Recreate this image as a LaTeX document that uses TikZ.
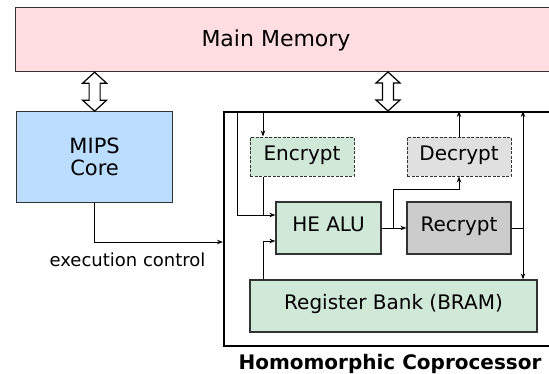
\documentclass[tikz,border=0pt]{standalone}
\usepackage{fontspec}
\setmainfont{DejaVu Sans}
\usetikzlibrary{arrows.meta,calc}
\definecolor{memfill}{HTML}{FFDDE0}
\definecolor{mipsfill}{HTML}{BBDDFF}
\definecolor{grnfill}{HTML}{D0E8D8}
\definecolor{decfill}{HTML}{E0E0E0}
\definecolor{recfill}{HTML}{CCCCCC}
\definecolor{edge}{HTML}{333333}
\tikzset{
  box/.style={draw=edge, line width=1.2pt, rectangle, inner sep=0pt, text height=0.73em, text depth=0pt},
  dashbox/.style={box, dash pattern=on 3pt off 1.5pt, line width=1pt},
  arr/.style={line width=1pt, -{Stealth[length=6pt,width=4.5pt]}},
  arrboth/.style={line width=1pt, {Stealth[length=6pt,width=4.5pt]}-{Stealth[length=6pt,width=4.5pt]}},
  plain/.style={line width=1pt},
  dbl/.style={draw=black, fill=white, line width=1.2pt, line join=miter},
  boxfont/.style={font=\fontsize{20}{22}\selectfont}
}
\newcommand\dblarrowdown[1]{%
  \draw[dbl] (#1) -- ++(-12,11) -- ++(6.5,0) -- ++(0,17) -- ++(-6.5,0) -- ++(12,11)
    -- ++(12,-11) -- ++(-6.5,0) -- ++(0,-17) -- ++(6.5,0) -- cycle;}
\begin{document}
\begin{tikzpicture}[x=1pt,y=-1pt]
\useasboundingbox (0,0) rectangle (549,373);
\clip (0,0) rectangle (549,373);
\fill[white] (0,0) rectangle (549,373);
% Main memory
\node[box, fill=memfill, anchor=north west, minimum width=560pt, minimum height=64pt] (mm) at (15,7) {};
\node[font=\fontsize{22}{26}\selectfont, anchor=base] (mmtext) at (276,46) {Main Memory};
% MIPS core
\node[box, fill=mipsfill, anchor=north west, minimum width=156pt, minimum height=91pt,
      align=center, font=\fontsize{21}{22}\selectfont, text height=, text depth=] (mips) at (16,111) {MIPS\\Core};
% Coprocessor
\node[draw=black, line width=1.6pt, rectangle, anchor=north west, minimum width=360pt, minimum height=234pt] (cop) at (223,111) {};
\node[font=\fontsize{20}{22}\selectfont\bfseries, anchor=base] (coplabel) at (390,369) {Homomorphic Coprocessor};
% inner boxes
\node[dashbox, fill=grnfill, boxfont, minimum width=104pt, minimum height=39pt] (enc) at (302,156.5) {Encrypt};
\node[dashbox, fill=decfill, boxfont, minimum width=104pt, minimum height=39pt] (dec) at (459,156.5) {Decrypt};
\node[box, fill=grnfill, boxfont, minimum width=105pt, minimum height=52pt] (alu) at (328.5,228) {HE ALU};
\node[box, fill=recfill, boxfont, minimum width=104pt, minimum height=52pt] (rec) at (459,228) {Recrypt};
\node[box, fill=grnfill, boxfont, minimum width=287pt, minimum height=52pt] (reg) at (393.5,306) {Register Bank (BRAM)};
% double arrows
\dblarrowdown{mm.south -| mips.north}
\coordinate (dblr) at (388,72);
\dblarrowdown{dblr}
% execution control
\coordinate (ecin) at (223,242);
\draw[arr] (mips.south) |- (ecin);
\node[font=\fontsize{18}{20}\selectfont, anchor=base] (eclabel) at (127.5,266) {execution control};
% internal wiring
\coordinate (c1) at (237,111);
\coordinate (c2) at (263,111);
\coordinate (c3) at (523,228);
\coordinate (b1) at (393,228);
\draw[arr] (c1) |- ([yshift=13pt]alu.west);
\draw[arr] (c2) -- (c2 |- enc.north);
\draw[plain] (c2 |- enc.south) -- (c2 |- 0,215);
\draw[arr] (c2 |- reg.north) |- ([yshift=-13pt]alu.west);
\draw[arr] (alu.east) -- (rec.west);
\draw[arr] (b1) -- (b1 |- 0,189) -| (dec.south);
\draw[arr] (dec.north) -- (dec.north |- cop.north);
\draw[plain] (rec.east) -- (c3);
\draw[arrboth] (c3 |- cop.north) -- (c3 |- reg.north);
\end{tikzpicture}
\end{document}
